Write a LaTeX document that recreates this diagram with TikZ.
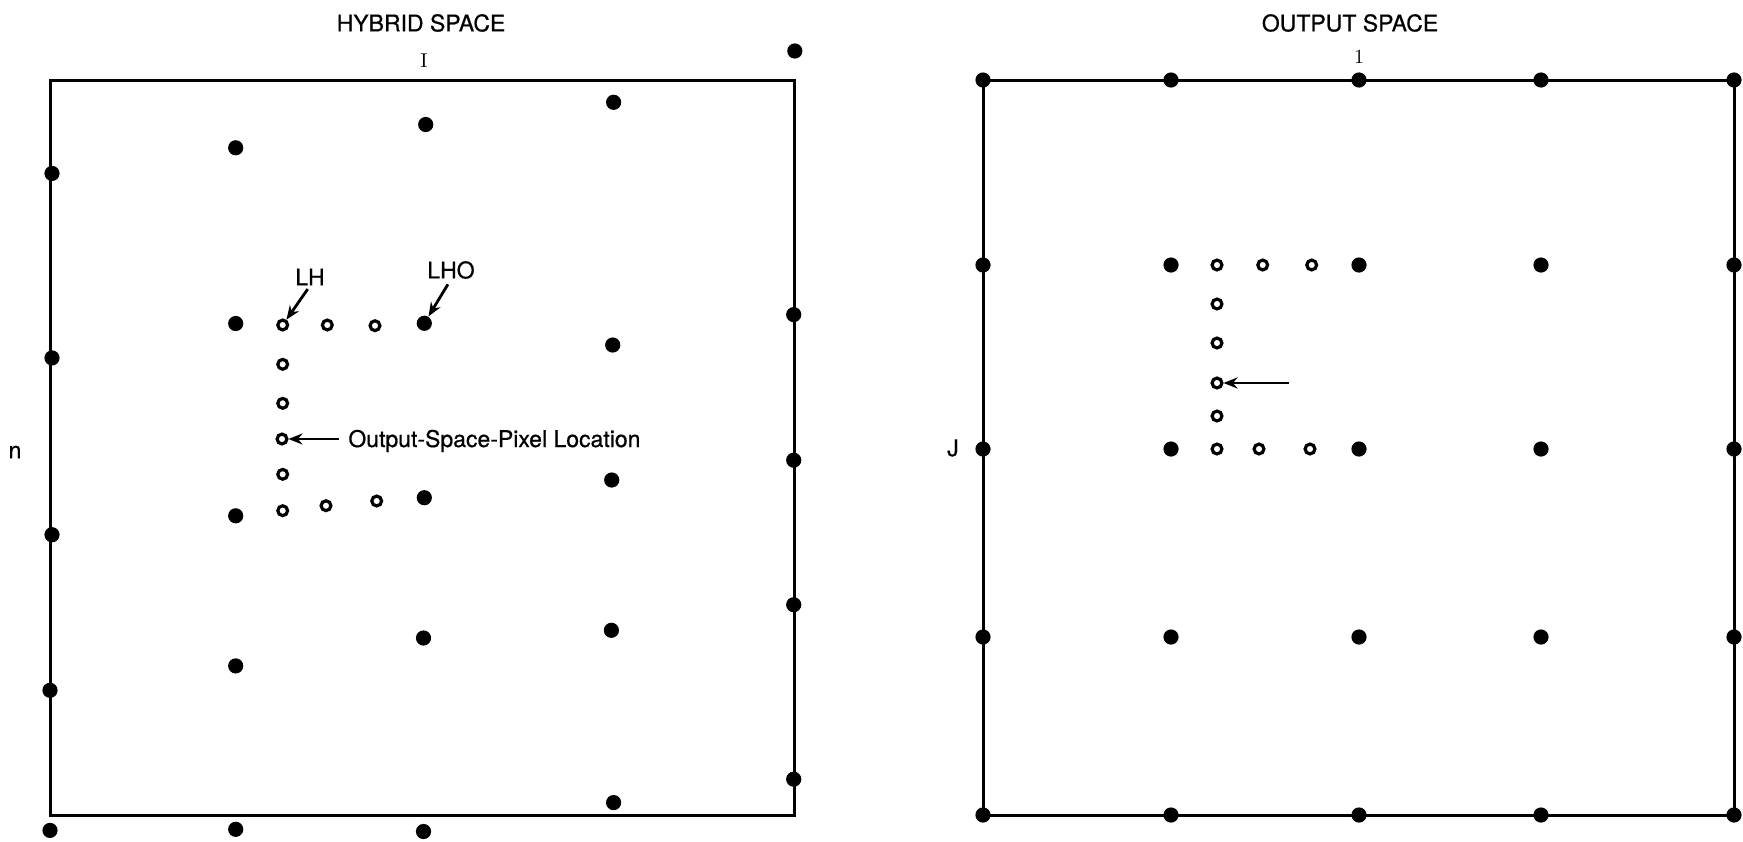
\documentclass[tikz,border=0pt]{standalone}
\usepackage{fontspec}
\newfontfamily\heros[FakeBold=0.6]{TeX Gyre Heros}
\usetikzlibrary{arrows.meta}

\begin{document}
\begin{tikzpicture}[x=0.5pt, y=-0.5pt,
    fdot/.style={circle, fill=black, inner sep=0pt, minimum size=7.6pt},
    odot/.style={circle, draw=black, line width=1.6pt, inner sep=0pt, minimum size=4.9pt},
    lbl/.style={font=\heros\fontsize{11.5}{13}\selectfont, inner sep=0pt},
    idx/.style={font=\fontsize{10}{12}\selectfont, inner sep=0pt},
    arr/.style={-{Stealth[length=7pt, width=5.5pt]}, line width=1.4pt},
    frame/.style={line width=1.5pt}]
  \useasboundingbox (0,0) rectangle (1743,841);

  % hybrid space
  \draw[frame] (50,80) rectangle (794,815);
  \node[lbl] (htitle) at (421,23) {HYBRID SPACE};
  \node[idx] (hi) at (424,61) {I};
  \node[lbl] (hn) at (15,452) {n};
  \foreach \p [count=\k] in {(794.8,51),(613.6,102.3),(425.7,124.5),(235.7,147.8),
      (52,173.4),(52,357.9),(52,534.7),(50,690.3),(50,830.4),(235.7,829.3),
      (423.5,831.5),(613.6,802.6),(793.7,779.2),(793.7,604.7),(793.7,460.2),
      (793.7,314.6),(612.7,345),(611.7,480),(235.7,323.5),(424.3,497.7),
      (235.7,515.8),(423.5,638),(611.4,630.3),(235.7,665.9)}
    \node[fdot] (h\k) at \p {};
  \node[fdot] (lho) at (424.3,323.3) {};
  \node[odot] (lh) at (282.7,325) {};
  \foreach \p [count=\k] in {(327.3,325),(375,325.7),(282.7,364.3),(282.7,403.3),
      (282.7,474.3),(282.7,510.7),(326,505.7),(376.7,501)}
    \node[odot] (c\k) at \p {};
  \node[odot] (loc) at (282,439) {};

  \node[lbl] (lhlab) at (310,277) {LH};
  \node[lbl] (lholab) at (451,270) {LHO};
  \draw[arr, shorten <=2pt] (lhlab.south) -- (lh);
  \draw[arr, shorten <=3pt] (lholab.south) -- (lho);
  \node[lbl, anchor=base west] (loclab) at (348,447) {Output-Space-Pixel Location};
  \coordinate (loctail) at (339,439);
  \draw[arr] (loctail) -- (loc);

  % output space
  \draw[frame] (983,80) rectangle (1734,815);
  \node[lbl] (otitle) at (1350,23) {OUTPUT SPACE};
  \node[idx] (o1) at (1359,57) {1};
  \node[lbl] (oj) at (953,448) {J};
  \foreach \x [count=\i] in {983,1171,1359,1541,1734}
    \foreach \y [count=\j] in {80,265,449,637,815}
      \node[fdot] (g\i\j) at (\x,\y) {};
  \foreach \p [count=\k] in {(1217,265),(1262.7,265),(1311.7,265),(1217,304),
      (1217,343),(1217,416),(1217,449),(1259,449),(1310,449)}
    \node[odot] (r\k) at \p {};
  \node[odot] (rloc) at (1217,383) {};
  \coordinate (rtail) at (1289,383);
  \draw[arr] (rtail) -- (rloc);
\end{tikzpicture}
\end{document}
